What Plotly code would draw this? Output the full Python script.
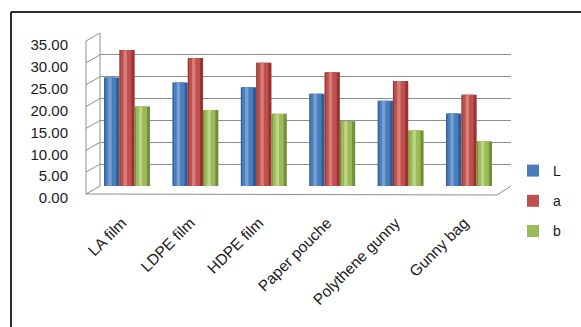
import plotly.graph_objects as go

# Storage treatments and measured values (L, a, b colour coordinates)
categories = ["LA film", "LDPE film", "HDPE film", "Paper pouche", "Polythene gunny", "Gunny bag"]
L_values = [24.8, 23.7, 22.6, 21.1, 19.5, 16.6]
a_values = [31.1, 29.3, 28.2, 26.0, 24.0, 20.9]
b_values = [18.2, 17.4, 16.5, 14.8, 12.7, 10.2]
series_names = ["L", "a", "b"]
y_ticks = [0, 5, 10, 15, 20, 25, 30, 35]

W, H = 581, 327
# plot-area pixel box
PL, PR, PT, PB = 100, 511, 33, 186
FONT = "Liberation Sans, Arial, sans-serif"

shades = [
    ("#2E5C98", "#4A7EBB", "#86ABDA"),
    ("#983330", "#C0504D", "#DE8E8B"),
    ("#728E3A", "#9BBB59", "#C6DC95"),
]

bar_w = 0.224
offsets = [-0.336, -0.112, 0.112]

fig = go.Figure()
for name, vals, off, (dark, main, light) in zip(series_names, [L_values, a_values, b_values], offsets, shades):
    # dark body of the cylinder
    fig.add_trace(go.Bar(x=categories, y=vals, width=bar_w, offset=off,
                         marker=dict(color=dark, line=dict(width=0)),
                         showlegend=False, hoverinfo="skip", legendgroup=name))
    # main colour band
    fig.add_trace(go.Bar(x=categories, y=vals, width=bar_w * 0.72, offset=off + bar_w * 0.08,
                         marker=dict(color=main, line=dict(width=0)),
                         name=name, showlegend=True, legendgroup=name))
    # highlight strip
    fig.add_trace(go.Bar(x=categories, y=vals, width=bar_w * 0.22, offset=off + bar_w * 0.28,
                         marker=dict(color=light, line=dict(width=0), opacity=0.75),
                         showlegend=False, hoverinfo="skip", legendgroup=name))


def px_x(p):
    return (p - PL) / (PR - PL)


def px_y(p):
    return (PB - p) / (PB - PT)


shapes = []
grid_col = "#8E8E8E"
# side wall perspective lines
for v in y_ticks:
    yb = PB - v / 35 * (PB - PT)
    shapes.append(dict(type="line", xref="paper", yref="paper",
                       x0=px_x(PL), y0=px_y(yb), x1=px_x(86), y1=px_y(yb + 8),
                       line=dict(color=grid_col, width=1)))
shapes.append(dict(type="line", xref="paper", yref="paper",
                   x0=px_x(86), y0=px_y(PT + 8), x1=px_x(86), y1=px_y(PB + 8),
                   line=dict(color=grid_col, width=1)))
shapes.append(dict(type="line", xref="paper", yref="paper",
                   x0=px_x(PL), y0=px_y(PT), x1=px_x(PL), y1=px_y(PB),
                   line=dict(color=grid_col, width=1)))
# floor front edge
shapes.append(dict(type="path", xref="paper", yref="paper",
                   path=f"M {px_x(86)} {px_y(PB + 8)} L {px_x(497)} {px_y(PB + 9)} L {px_x(PR)} {px_y(PB)}",
                   line=dict(color=grid_col, width=1)))
# outer chart border (left and top)
shapes.append(dict(type="line", xref="paper", yref="paper",
                   x0=px_x(11), y0=px_y(12), x1=px_x(11), y1=px_y(H + 2),
                   line=dict(color="#2B2B2B", width=2)))
shapes.append(dict(type="line", xref="paper", yref="paper",
                   x0=px_x(11), y0=px_y(12), x1=px_x(W + 2), y1=px_y(12),
                   line=dict(color="#2B2B2B", width=2)))

fig.update_layout(
    width=W, height=H,
    margin=dict(l=PL, r=W - PR, t=PT, b=H - PB, pad=0),
    paper_bgcolor="white", plot_bgcolor="white",
    barmode="overlay",
    font=dict(family=FONT, size=15, color="#1A1A1A"),
    showlegend=True,
    legend=dict(x=px_x(513), y=px_y(155), xanchor="left", yanchor="top",
                font=dict(size=14), tracegroupgap=9, traceorder="grouped",
                bgcolor="rgba(0,0,0,0)"),
    shapes=shapes,
)
fig.update_xaxes(range=[-(127 - PL) / 68.4, 5 + (PR - 469) / 68.4],
                 showgrid=False, zeroline=False, showline=False,
                 tickangle=-45, ticks="", ticklabelstandoff=24,
                 ticklabelshift=-5,
                 tickfont=dict(size=15.5))
fig.update_yaxes(range=[0, 35], tickvals=y_ticks,
                 ticktext=[f"{v:.2f}" for v in y_ticks],
                 showgrid=True, gridcolor=grid_col, gridwidth=1,
                 zeroline=False, showline=False, ticks="",
                 ticklabelstandoff=31, ticklabelshift=12,
                 tickfont=dict(size=15))

fig.write_html("out.html")
